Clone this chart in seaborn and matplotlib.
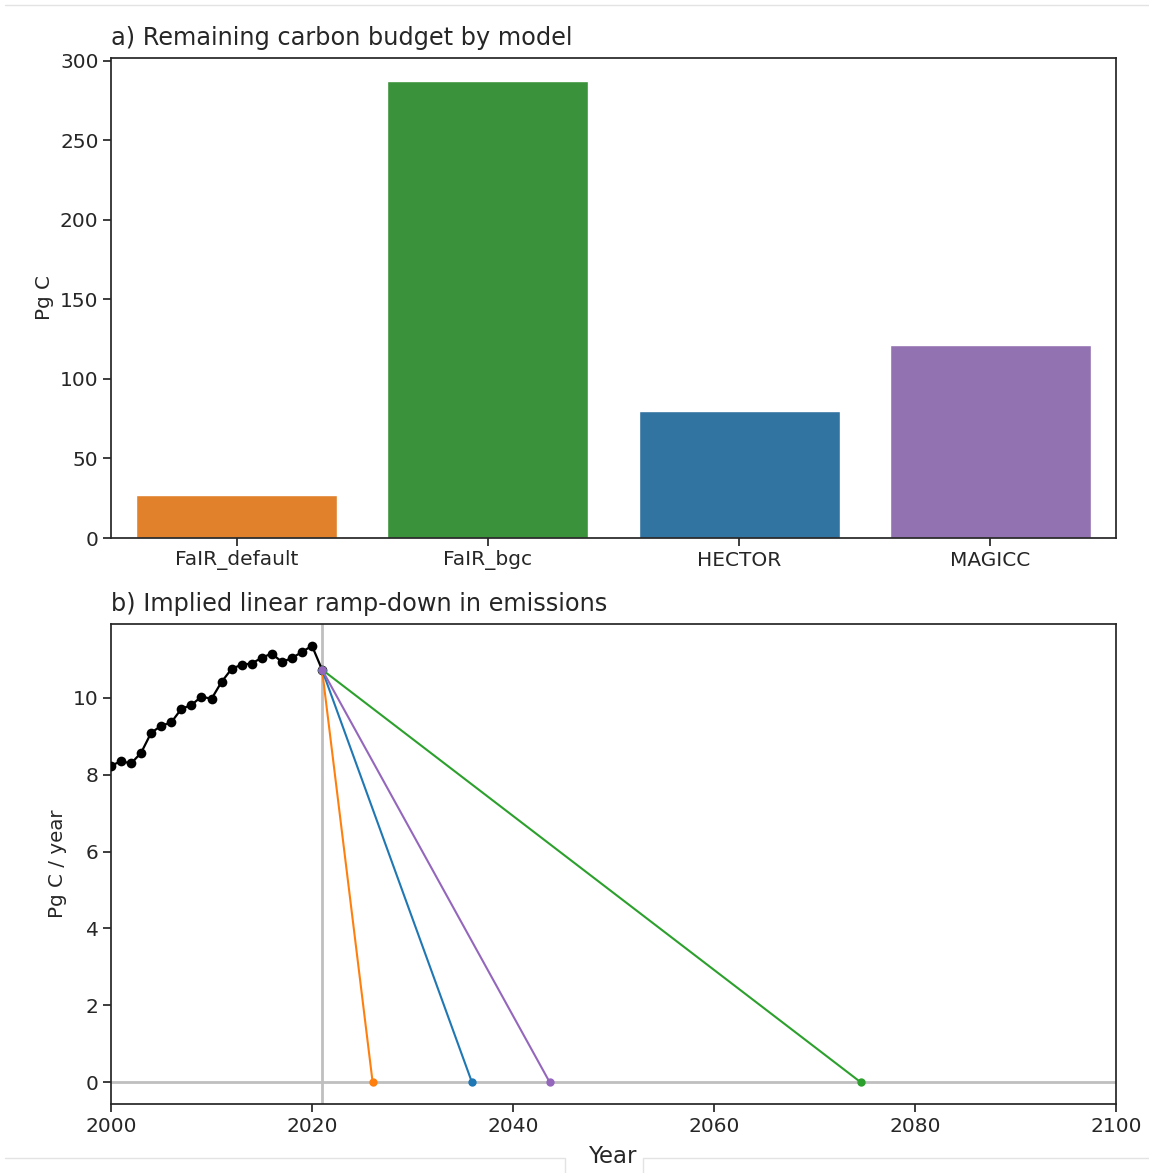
import numpy as np
import pandas as pd
import matplotlib
matplotlib.use("Agg")
import matplotlib.pyplot as plt
from matplotlib.lines import Line2D
import seaborn as sns

# Remaining carbon budget per model (Pg C)
models = ["FaIR_default", "FaIR_bgc", "HECTOR", "MAGICC"]
budgets = [27.0, 287.5, 80.0, 121.5]
bar_colors = ["tab:orange", "tab:green", "tab:blue", "tab:purple"]

# Historical emissions (Pg C / year)
hist_years = list(range(2000, 2022))
hist_emis = [8.23, 8.35, 8.29, 8.57, 9.09, 9.27, 9.36, 9.71, 9.81, 10.03, 9.97,
             10.41, 10.75, 10.86, 10.89, 11.04, 11.15, 10.93, 11.03, 11.19, 11.35,
             10.73]

start_year = 2021

sns.set_theme(style="ticks")
plt.rcParams.update({
    "font.family": ["DejaVu Sans"],
    "xtick.labelsize": 14.5,
    "ytick.labelsize": 14.5,
    "axes.labelsize": 14.3,
    "axes.titlesize": 17.3,
    "xtick.major.size": 5.5,
    "ytick.major.size": 5.5,
})

W, H = 1149, 1173
fig = plt.figure(figsize=(W / 100, H / 100), dpi=100)

def rect(x0, y0, x1, y1):
    return [x0 / W, 1 - y1 / H, (x1 - x0) / W, (y1 - y0) / H]

ax_a = fig.add_axes(rect(111, 58, 1116, 538))
ax_b = fig.add_axes(rect(111, 624, 1116, 1104))

# a) bar chart of budgets
df_b = pd.DataFrame({"model": models, "budget": budgets})
sns.barplot(data=df_b, x="model", y="budget", hue="model",
            palette=bar_colors, legend=False, ax=ax_a)
ax_a.set_xlabel("")
ax_a.set_ylabel("Pg C")
ax_a.set_title("a) Remaining carbon budget by model", loc="left", pad=9)

# b) linear ramp-down from the start year to zero
ax_b.axvline(start_year, color="0.75", lw=2, zorder=1)
ax_b.axhline(0, color="0.75", lw=2, zorder=1)

sns.lineplot(x=hist_years, y=hist_emis, color="black", marker="o",
             markersize=7, markeredgewidth=0, lw=1.6, ax=ax_b, zorder=3)

e0 = hist_emis[-1]
for model, budget, col in zip(models, budgets, bar_colors):
    end_year = start_year + 2 * budget / e0
    sns.lineplot(x=[start_year, end_year], y=[e0, 0.0], color=col,
                 marker="o", markersize=6, markeredgewidth=0, lw=1.5,
                 ax=ax_b, zorder=4)

ax_b.set_xlim(2000, 2100)
ax_b.set_xticks([2000, 2020, 2040, 2060, 2080, 2100])
ax_b.set_yticks([0, 2, 4, 6, 8, 10])
ax_b.set_xlabel("Year", fontsize=16.4, labelpad=7)
ax_b.set_ylabel("Pg C / year")
ax_b.set_title("b) Implied linear ramp-down in emissions", loc="left", pad=9)

# light page frame
frame_c = "#e3e3e3"
def fline(xs, ys):
    fig.add_artist(Line2D([x / W for x in xs], [1 - y / H for y in ys],
                          color=frame_c, lw=1, transform=fig.transFigure))
fline([5, 1149], [5, 5])
fline([5, 565, 565], [1158, 1158, 1173])
fline([643, 643, 1149], [1173, 1158, 1158])

fig.savefig("out.png", dpi=100)
